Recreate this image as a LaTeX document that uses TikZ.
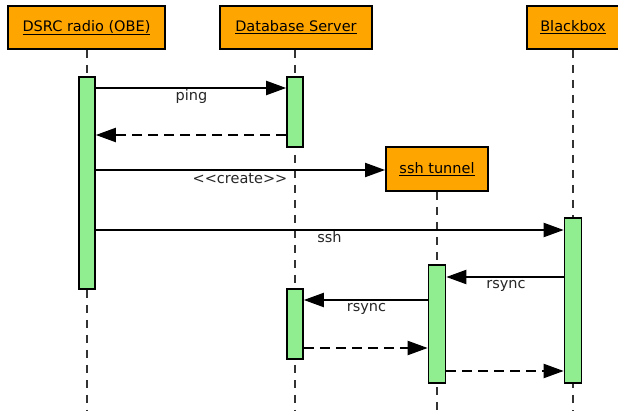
\documentclass[tikz,border=0pt]{standalone}
\usepackage{fontspec}
\setmainfont{DejaVu Sans}
\usetikzlibrary{arrows.meta}
\definecolor{hdr}{HTML}{FFA500}
\definecolor{act}{HTML}{90EE90}
\begin{document}
\begin{tikzpicture}[x=1pt,y=-1pt,
  font=\fontsize{14.5}{17}\selectfont,
  actor/.style={draw=black, line width=1.8pt, fill=hdr, inner sep=0pt, minimum height=43pt},
  bar/.style={draw=black, line width=1.6pt, fill=act, inner sep=0pt, minimum width=16pt},
  life/.style={draw=black!80, line width=1.4pt, dash pattern=on 8pt off 7pt},
  msg/.style={draw=black, line width=2pt, -{Triangle[length=20pt,width=14pt]}},
  ret/.style={msg, dash pattern=on 10pt off 6pt},
  lbl/.style={anchor=base, inner sep=0pt, text=black!85}]
\useasboundingbox (0,0) rectangle (618,411);
% headers
\node[actor, minimum width=157pt] (obe) at (86.5,27.5) {\underline{DSRC radio (OBE)}};
\node[actor, minimum width=152pt] (db) at (296,27.5) {\underline{Database Server}};
\node[actor, minimum width=92pt] (bb) at (573,27.5) {\underline{Blackbox}};
\node[actor, minimum width=102pt, minimum height=44pt] (ssh) at (437,169) {\underline{ssh tunnel}};
% lifelines
\coordinate (obeE) at (87,411);
\coordinate (dbE) at (295,411);
\coordinate (bbE) at (573,411);
\coordinate (sshE) at (437,411);
\draw[life] (obe.south -| obeE) -- (obeE);
\draw[life] (db.south -| dbE) -- (dbE);
\draw[life] (bb.south) -- (bbE);
\draw[life] (ssh.south) -- (sshE);
% activation bars
\node[bar, minimum height=212pt] (a1) at (87,183) {};
\node[bar, minimum height=70pt] (d1) at (295,112) {};
\node[bar, minimum height=70pt] (d2) at (295,324) {};
\node[bar, minimum width=17pt, minimum height=118pt] (s1) at (437,324) {};
\node[bar, minimum width=17pt, minimum height=165pt] (b1) at (573,300.5) {};
% messages
\draw[msg] (a1.east |- 0,88) -- (d1.west |- 0,88);
\node[lbl] (lping) at (191.5,100.5) {ping};
\draw[ret] (d1.west |- 0,135) -- (a1.east |- 0,135);
\draw[msg] (a1.east |- 0,170) -- (ssh.west |- 0,170);
\node[lbl] (lcreate) at (240,183.5) {{<}{<}create{>}{>}};
\draw[msg] (a1.east |- 0,230) -- (b1.west |- 0,230);
\node[lbl] (lssh) at (329.5,243) {ssh};
\draw[msg] (b1.west |- 0,277) -- (s1.east |- 0,277);
\node[lbl] (lr1) at (506,289) {rsync};
\draw[msg] (s1.west |- 0,300) -- (d2.east |- 0,300);
\node[lbl] (lr2) at (366.5,312) {rsync};
\draw[ret] (d2.east |- 0,348) -- (s1.west |- 0,348);
\draw[ret] (s1.east |- 0,371) -- (b1.west |- 0,371);
\end{tikzpicture}
\end{document}
